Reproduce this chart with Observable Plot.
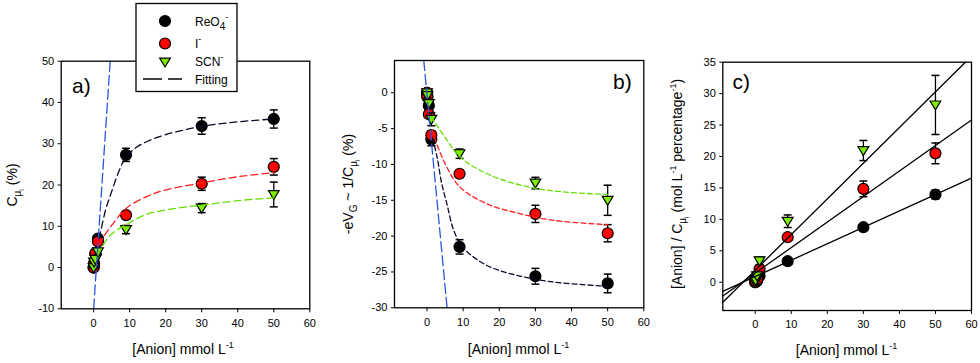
<!DOCTYPE html>
<html><head><meta charset="utf-8">
<script src="https://cdn.jsdelivr.net/npm/d3@7"></script>
<script src="https://cdn.jsdelivr.net/npm/@observablehq/plot@0.6"></script>
<style>
body{margin:0;background:#fff;}
#wrap{position:relative;width:980px;height:363px;background:#fff;overflow:hidden;font-family:"Liberation Sans",Arial,sans-serif;}
#wrap svg{position:absolute;top:0;}
</style></head><body><div id="wrap"></div>
<script>
// ---------- data ----------
const xTicks = [0, 10, 20, 30, 40, 50, 60];
const aYTicks = [-10, 0, 10, 20, 30, 40, 50];
const bYTicks = [0, -5, -10, -15, -20, -25, -30];
const cYTicks = [0, 5, 10, 15, 20, 25, 30, 35];
const conc = [0, 0.1, 0.5, 1.2, 9, 30, 50];

// panel a) C_mu (%)
const aReO4 = [0, 1.0, 3.3, 7.0, 27.3, 34.3, 36.0];
const aReO4Err = [0.3, 0.5, 0.6, 0.8, 1.6, 2.0, 2.2];
const aI = [0, 0.8, 3.5, 6.3, 12.7, 20.3, 24.4];
const aIErr = [0.2, 0.3, 0.5, 0.6, 0.6, 1.6, 2.0];
const aSCN = [0, 1.3, 2.0, 3.8, 9.2, 14.4, 17.7];
const aSCNErr = [0.2, 0.3, 0.4, 0.6, 1.0, 1.1, 3.0];
const aFitReO4 = [[1.5, 7], [2, 9], [3.4, 14.2], [4.8, 17.9], [7.1, 23.5], [9, 26.8], [12, 29.2], [15, 30.6], [20, 32.2], [30, 34.2], [40, 35.3], [50, 36.0]];
const aFitI = [[1.5, 5.5], [3, 7.8], [5, 10.2], [9, 14.3], [15, 17.3], [20, 18.8], [30, 20.5], [40, 22.0], [50, 23.0]];
const aFitSCN = [[1.2, 3], [2, 4.5], [4, 7.2], [6, 8.8], [9, 10.4], [15, 13.0], [24, 14.5], [30, 15.1], [40, 16.2], [50, 16.9]];
const aSlope = [[0, -10], [4.6, 50]];

// panel b) -eV_G ~ 1/C_mu (%)
const bReO4 = [0, -0.6, -1.8, -6.5, -21.5, -25.6, -26.6];
const bReO4Err = [0.3, 0.3, 0.5, 0.9, 1.0, 1.1, 1.3];
const bI = [0, -0.5, -3.0, -5.9, -11.3, -16.9, -19.6];
const bIErr = [0.2, 0.3, 0.5, 0.6, 0.5, 1.2, 1.2];
const bSCN = [0, -0.4, -1.5, -3.7, -8.5, -12.6, -15.0];
const bSCNErr = [0.2, 0.3, 0.4, 0.9, 0.65, 0.8, 2.1];
const bFitReO4 = [[1.5, -6.3], [2.8, -9], [4, -12.5], [5.5, -15.5], [7.4, -19.2], [10, -21.6], [16.6, -24.1], [26, -25.6], [35, -26.4], [50, -27.0]];
const bFitI = [[1.5, -5.2], [2.3, -6.6], [5.5, -10.4], [9.2, -13.2], [16.6, -15.5], [26, -16.9], [35, -17.8], [50, -18.4]];
const bFitSCN = [[1.2, -3.4], [1.85, -3.9], [5.5, -6.6], [9.2, -9.0], [16.6, -11.3], [26, -12.9], [35, -13.7], [50, -14.2]];
const bSlope = [[-0.9, 4.5], [5.55, -30]];

// panel c) [Anion]/C_mu
const cReO4 = [0, 0.1, 0.2, 1.0, 3.34, 8.75, 13.95];
const cReO4Err = [0, 0, 0, 0.3, 0.3, 0.4, 0.7];
const cI = [0, 0.2, 0.5, 2.1, 7.16, 14.85, 20.5];
const cIErr = [0, 0, 0, 0.3, 0.4, 1.25, 1.65];
const cSCN = [0, 0.3, 1.0, 3.4, 9.7, 20.95, 28.2];
const cSCNErr = [0, 0, 0.3, 0.6, 1.0, 1.6, 4.7];
const cLineReO4 = [[-9, -1.45], [60, 16.55]];
const cLineI = [[-9, -2.2], [60, 25.8]];
const cLineSCN = [[-9, -3.2], [58.3, 35]];

// ---------- styles ----------
const colors = {ReO4: "#000000", I: "#ff0000", SCN: "#7ced00"};
const FONT = '"Liberation Sans", Arial, sans-serif';

const triDown = {draw(ctx, size) {
  const r = Math.sqrt(size / Math.PI);
  ctx.moveTo(-0.98 * r, -0.72 * r); ctx.lineTo(0.98 * r, -0.72 * r); ctx.lineTo(0, 0.9 * r); ctx.closePath();
}};
const cap = {draw(ctx, size) { ctx.moveTo(-4, 0); ctx.lineTo(4, 0); }};

function rows(ys, errs) { return conc.map((x, i) => ({x, y: ys[i], e: errs[i]})); }

function seriesMarks(data, color, symbol) {
  const withErr = data.filter(d => d.e > 0);
  return [
    Plot.ruleX(withErr, {x: "x", y1: d => d.y - d.e, y2: d => d.y + d.e, stroke: "black", strokeWidth: 1.3}),
    Plot.dot(withErr, {x: "x", y: d => d.y - d.e, symbol: cap, r: 3, stroke: "black", strokeWidth: 1.5, fill: "none"}),
    Plot.dot(withErr, {x: "x", y: d => d.y + d.e, symbol: cap, r: 3, stroke: "black", strokeWidth: 1.5, fill: "none"}),
    Plot.dot(data, {x: "x", y: "y", r: 5.5, symbol, fill: color, stroke: "black", strokeWidth: 1.2})
  ];
}
function lineMark(pts, stroke, dash, curve) {
  return Plot.line(pts, {x: d => d[0], y: d => d[1], stroke, strokeWidth: 1.3, strokeDasharray: dash, curve: curve || "catmull-rom"});
}

function panel({left, width, ml, mr, mt, mb, ydomain, yticks, marks}) {
  const p = Plot.plot({
    width, height: 363, marginLeft: ml, marginRight: mr, marginTop: mt, marginBottom: mb,
    style: {fontFamily: FONT, fontSize: "11px", background: "transparent", color: "black", overflow: "visible"},
    x: {domain: [-9, 60], ticks: xTicks, tickSize: 4, tickPadding: 6, label: null, tickFormat: d => String(d)},
    y: {domain: ydomain, ticks: yticks, tickSize: 3, tickPadding: 4, label: null, tickFormat: d => String(d)},
    marks: [...marks, Plot.frame({stroke: "black", strokeWidth: 1.3})]
  });
  p.style.left = left + "px";
  document.getElementById("wrap").appendChild(p);
  return d3.select(p);
}

// ---------- panel a ----------
const A = panel({left: 0, width: 330, ml: 60.7, mr: 20.7, mt: 60.7, mb: 54.7, ydomain: [-10, 50], yticks: aYTicks, marks: [
  ...seriesMarks(rows(aReO4, aReO4Err), colors.ReO4, "circle"),
  ...seriesMarks(rows(aI, aIErr), colors.I, "circle"),
  ...seriesMarks(rows(aSCN, aSCNErr), colors.SCN, triDown),
  lineMark(aFitReO4, "#0a0a28", "7,4"),
  lineMark(aFitI, "#ff2020", "7,4"),
  lineMark(aFitSCN, "#66dd00", "7,4"),
  lineMark(aSlope, "#2a55dd", "10,4", "linear")
]});

// ---------- panel b ----------
const B = panel({left: 330, width: 325, ml: 64, mr: 11.7, mt: 60, mb: 55.7, ydomain: [-30, 4.5], yticks: bYTicks, marks: [
  ...seriesMarks(rows(bReO4, bReO4Err), colors.ReO4, "circle"),
  ...seriesMarks(rows(bI, bIErr), colors.I, "circle"),
  ...seriesMarks(rows(bSCN, bSCNErr), colors.SCN, triDown),
  lineMark(bFitReO4, "#0a0a28", "5,3"),
  lineMark(bFitI, "#ff2020", "5,3"),
  lineMark(bFitSCN, "#66dd00", "5,3"),
  lineMark(bSlope, "#2a55dd", "10,4", "linear")
]});

// ---------- panel c ----------
const C = panel({left: 655, width: 325, ml: 67.3, mr: 9, mt: 61.7, mb: 53, ydomain: [-4.5, 35], yticks: cYTicks, marks: [
  ...seriesMarks(rows(cReO4, cReO4Err), colors.ReO4, "circle"),
  ...seriesMarks(rows(cI, cIErr), colors.I, "circle"),
  ...seriesMarks(rows(cSCN, cSCNErr), colors.SCN, triDown),
  lineMark(cLineReO4, "black", null, "linear"),
  lineMark(cLineI, "black", null, "linear"),
  lineMark(cLineSCN, "black", null, "linear")
]});

// ---------- labels ----------
function txt(sel, x, y, parts, opts = {}) {
  const t = sel.append("text").attr("font-family", FONT).attr("font-size", opts.size || 14).attr("fill", "black")
    .attr("text-anchor", opts.anchor || "middle")
    .attr("transform", `translate(${x},${y})` + (opts.rotate ? ` rotate(${opts.rotate})` : ""));
  let shift = 0;
  for (const p of parts) {
    const [s, kind] = Array.isArray(p) ? p : [p, "n"];
    const target = kind === "sub" ? 4 : kind === "subsub" ? 7 : kind === "sup" ? -6 : 0;
    const fs = kind === "sub" ? 10 : kind === "subsub" ? 7 : kind === "sup" ? 9 : (opts.size || 14);
    t.append("tspan").attr("dy", target - shift).attr("font-size", fs).text(s);
    shift = target;
  }
  return t;
}
const xlab = ["[Anion] mmol L", ["-1", "sup"]];
txt(A, 183, 354, xlab);
txt(B, 188.5, 354, xlab);
txt(C, 191.5, 355, xlab);

txt(A, 17, 185, ["C", ["μ", "sub"], ["i", "subsub"], " (%)"], {rotate: -90});
txt(B, 23, 184, ["-eV", ["G", "sub"], " ~ 1/C", ["μ", "sub"], ["i", "subsub"], " (%)"], {rotate: -90});
txt(C, 27, 184, ["[Anion] / C", ["μ", "sub"], ["i", "subsub"], " (mol L", ["-1", "sup"], " percentage", ["-1", "sup"], ")"], {rotate: -90});

txt(A, 72, 93, ["a)"], {size: 21, anchor: "start"});
txt(B, 283, 89, ["b)"], {size: 21, anchor: "start"});
txt(C, 77.5, 89, ["c)"], {size: 21, anchor: "start"});

// ---------- legend ----------
const L = d3.select("#wrap").append("svg").attr("width", 330).attr("height", 100).style("left", "0px");
L.append("rect").attr("x", 136).attr("y", 3.5).attr("width", 101).attr("height", 88).attr("fill", "white").attr("stroke", "black").attr("stroke-width", 1.3);
L.append("circle").attr("cx", 165).attr("cy", 21).attr("r", 5.5).attr("fill", colors.ReO4).attr("stroke", "black").attr("stroke-width", 1.2);
L.append("circle").attr("cx", 165).attr("cy", 43.5).attr("r", 5.5).attr("fill", colors.I).attr("stroke", "black").attr("stroke-width", 1.2);
L.append("path").attr("transform", "translate(165,62)").attr("d", d3.symbol(triDown, 5.5 * 5.5 * Math.PI)()).attr("fill", colors.SCN).attr("stroke", "black").attr("stroke-width", 1.2);
L.append("line").attr("x1", 143).attr("x2", 182).attr("y1", 79).attr("y2", 79).attr("stroke", "black").attr("stroke-width", 1.3).attr("stroke-dasharray", "19,6");
txt(L, 195, 26, ["ReO", ["4", "sub"], ["-", "sup"]], {size: 12, anchor: "start"});
txt(L, 195, 48, ["I", ["-", "sup"]], {size: 12, anchor: "start"});
txt(L, 195, 66, ["SCN", ["-", "sup"]], {size: 12, anchor: "start"});
txt(L, 195, 83.5, ["Fitting"], {size: 12, anchor: "start"});
</script></body></html>
